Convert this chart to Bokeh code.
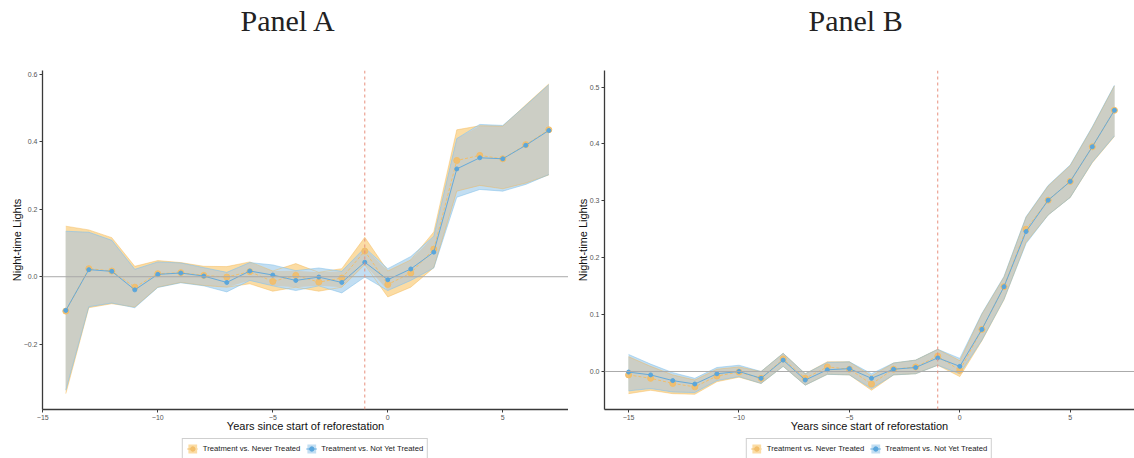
import numpy as np
from bokeh.plotting import figure
from bokeh.layouts import row, column
from bokeh.models import (Range1d, Span, Legend, LegendItem, FixedTicker,
                          CustomJSTickFormatter, Title)
from bokeh.embed import file_html
from bokeh.resources import INLINE

# ---------------- data: Panel A ----------------
years_a = list(range(-14, 8))
never_est_a = [-0.102, 0.024, 0.017, -0.031, 0.009, 0.012, 0.004, -0.001, 0.015, -0.014, 0.004,
               -0.016, -0.004, 0.076, -0.023, 0.011, 0.082, 0.345, 0.360, 0.350, 0.392, 0.436]
never_hi_a = [0.150, 0.139, 0.116, 0.031, 0.048, 0.042, 0.031, 0.030, 0.044, 0.017, 0.039,
              0.013, 0.024, 0.117, 0.017, 0.050, 0.133, 0.436, 0.448, 0.447, 0.510, 0.572]
never_lo_a = [-0.347, -0.092, -0.080, -0.090, -0.031, -0.017, -0.026, -0.031, -0.021, -0.043, -0.031,
              -0.043, -0.031, 0.036, -0.060, -0.031, 0.027, 0.254, 0.271, 0.261, 0.278, 0.302]
notyet_est_a = [-0.100, 0.021, 0.016, -0.039, 0.007, 0.011, 0.002, -0.017, 0.017, 0.005, -0.011,
                -0.001, -0.017, 0.043, -0.009, 0.023, 0.073, 0.320, 0.353, 0.350, 0.390, 0.434]
notyet_hi_a = [0.135, 0.132, 0.108, 0.022, 0.044, 0.041, 0.027, 0.013, 0.042, 0.035, 0.018,
               0.026, 0.016, 0.086, 0.024, 0.060, 0.120, 0.410, 0.452, 0.449, 0.508, 0.570]
notyet_lo_a = [-0.337, -0.089, -0.078, -0.092, -0.032, -0.018, -0.027, -0.045, -0.011, -0.027, -0.041,
               -0.027, -0.048, -0.001, -0.041, -0.011, 0.026, 0.236, 0.259, 0.254, 0.274, 0.303]

# ---------------- data: Panel B ----------------
years_b = list(range(-15, 8))
never_est_b = [-0.006, -0.012, -0.021, -0.027, -0.008, -0.001, -0.012, 0.022, -0.012, 0.008, 0.004, -0.022,
               0.004, 0.008, 0.027, 0.002, 0.074, 0.149, 0.250, 0.301, 0.334, 0.395, 0.459]
never_hi_b = [0.026, 0.009, -0.006, -0.015, 0.004, 0.008, 0.000, 0.032, -0.004, 0.017, 0.017, -0.008,
              0.015, 0.020, 0.039, 0.019, 0.101, 0.166, 0.271, 0.326, 0.362, 0.429, 0.502]
never_lo_b = [-0.039, -0.033, -0.039, -0.040, -0.018, -0.010, -0.021, 0.009, -0.024, -0.005, -0.006, -0.033,
              -0.006, -0.004, 0.011, -0.009, 0.054, 0.126, 0.227, 0.275, 0.306, 0.367, 0.413]
notyet_est_b = [-0.001, -0.006, -0.016, -0.022, -0.004, 0.000, -0.012, 0.020, -0.015, 0.003, 0.005, -0.012,
                0.004, 0.007, 0.024, 0.009, 0.074, 0.149, 0.246, 0.301, 0.334, 0.395, 0.459]
notyet_hi_b = [0.030, 0.013, -0.002, -0.012, 0.007, 0.011, 0.000, 0.032, -0.004, 0.016, 0.017, -0.004,
               0.015, 0.020, 0.039, 0.023, 0.102, 0.167, 0.272, 0.327, 0.363, 0.430, 0.503]
notyet_lo_b = [-0.034, -0.030, -0.036, -0.037, -0.016, -0.009, -0.021, 0.009, -0.024, -0.005, -0.006, -0.030,
               -0.006, -0.004, 0.011, -0.004, 0.055, 0.127, 0.225, 0.275, 0.306, 0.368, 0.414]

label_never = "Treatment vs. Never Treated"
label_notyet = "Treatment vs. Not Yet Treated"
x_title = "Years since start of reforestation"
y_title = "Night-time Lights"
x_ticks = [-15, -10, -5, 0, 5]
y_ticks_a = [-0.2, 0.0, 0.2, 0.4, 0.6]
y_ticks_b = [0.0, 0.1, 0.2, 0.3, 0.4, 0.5]

ORANGE_BAND = "#FBDCA4"
BLUE_BAND = "#C2DEF2"
OVERLAP_BAND = "#CCCEC5"
ORANGE_EDGE = "#F2B44C"
BLUE_EDGE = "#7DBDE8"
ORANGE_PT = "#F2BE6A"
BLUE_PT = "#5AA6DC"
SANS = "Liberation Sans"
MAIN_H = 434
LEG_H = 24


def series_renderers(p, xs, o_est, o_hi, o_lo, b_est, b_hi, b_lo, decorations=True):
    va_o = p.varea(x=xs, y1=o_lo, y2=o_hi, fill_color=ORANGE_BAND)
    va_b = p.varea(x=xs, y1=b_lo, y2=b_hi, fill_color=BLUE_BAND)
    if decorations:
        ov_lo = np.maximum(o_lo, b_lo)
        ov_hi = np.maximum(np.minimum(o_hi, b_hi), ov_lo)
        p.varea(x=xs, y1=ov_lo, y2=ov_hi, fill_color=OVERLAP_BAND)
        p.line(xs, o_hi, line_color=ORANGE_EDGE, line_width=0.7, line_alpha=0.6)
        p.line(xs, o_lo, line_color=ORANGE_EDGE, line_width=0.7, line_alpha=0.6)
        p.line(xs, b_hi, line_color=BLUE_EDGE, line_width=0.7, line_alpha=0.7)
        p.line(xs, b_lo, line_color=BLUE_EDGE, line_width=0.7, line_alpha=0.7)
        p.add_layout(Span(location=0, dimension="width", line_color="#AAAAAA", line_width=1))
        p.add_layout(Span(location=-1, dimension="height", line_color="#E8907E",
                          line_width=1, line_dash="3 3"))
    ln_o = p.line(xs, o_est, line_color=ORANGE_PT, line_width=1, line_dash="3 2")
    pt_o = p.scatter(xs, o_est, size=6, fill_color=ORANGE_PT, line_color=ORANGE_PT, fill_alpha=0.9)
    ln_b = p.line(xs, b_est, line_color=BLUE_PT, line_width=0.9)
    pt_b = p.scatter(xs, b_est, size=4, fill_color=BLUE_PT, line_color=BLUE_PT)
    return [va_o, ln_o, pt_o], [va_b, ln_b, pt_b]


def make_panel(title, title_offset, width, border_left, xr, yr, yticks, xs,
               o_est, o_hi, o_lo, b_est, b_hi, b_lo):
    p = figure(width=width, height=MAIN_H, x_range=Range1d(*xr), y_range=Range1d(*yr),
               output_backend="svg", toolbar_location=None,
               min_border_left=border_left, min_border_right=0,
               min_border_top=70, min_border_bottom=MAIN_H - 409)
    # spacer between frame and title, then the title itself (stacked outwards)
    p.add_layout(Title(text=" ", text_font_size="20px", standoff=10), "above")
    p.add_layout(Title(text=title, align="left", offset=title_offset,
                       text_font="Liberation Serif", text_font_size="30px",
                       text_font_style="normal", text_color="#222222", standoff=0), "above")
    p.outline_line_color = None
    p.xgrid.visible = False
    p.ygrid.visible = False

    for ax in (p.xaxis, p.yaxis):
        ax.axis_line_color = "#3a3a3a"
        ax.axis_line_width = 1.3
        ax.major_tick_line_color = "#3a3a3a"
        ax.major_tick_out = 3
        ax.major_tick_in = 0
        ax.minor_tick_line_color = None
        ax.major_label_text_font = SANS
        ax.major_label_text_font_size = "7px"
        ax.major_label_text_color = "#555555"
        ax.major_label_standoff = 2
        ax.axis_label_text_font = SANS
        ax.axis_label_text_font_size = "11px"
        ax.axis_label_text_font_style = "normal"
        ax.axis_label_text_color = "#111111"
    p.xaxis.axis_label_standoff = -3
    p.yaxis.axis_label_standoff = -2
    p.xaxis.axis_label = x_title
    p.yaxis.axis_label = y_title
    p.xaxis.ticker = FixedTicker(ticks=x_ticks)
    p.yaxis.ticker = FixedTicker(ticks=yticks)
    p.xaxis.formatter = CustomJSTickFormatter(code="return tick.toFixed(0).replace('-', '\\u2212');")
    p.yaxis.formatter = CustomJSTickFormatter(code="return tick.toFixed(1).replace('-', '\\u2212');")

    series_renderers(p, xs, o_est, o_hi, o_lo, b_est, b_hi, b_lo)

    # legend strip underneath (same left border so it centres on the frame);
    # its renderers hold the same series but the range keeps them off-screen
    lf = figure(width=width, height=LEG_H, x_range=Range1d(100, 101), y_range=Range1d(100, 101),
                x_axis_type=None, y_axis_type=None, output_backend="svg",
                toolbar_location=None, min_border_left=border_left, min_border_right=0,
                min_border_top=0, min_border_bottom=0)
    lf.outline_line_color = None
    lf.xgrid.visible = False
    lf.ygrid.visible = False
    r_o, r_b = series_renderers(lf, xs, o_est, o_hi, o_lo, b_est, b_hi, b_lo, decorations=False)
    legend = Legend(items=[LegendItem(label=label_never, renderers=r_o),
                           LegendItem(label=label_notyet, renderers=r_b)],
                    orientation="horizontal", location="top_center",
                    label_text_font=SANS, label_text_font_size="7.7px",
                    label_text_color="#222222",
                    glyph_width=11, glyph_height=11, label_height=11,
                    padding=4, spacing=5, label_standoff=5, margin=4,
                    border_line_color="#A0A0A0", border_line_width=1,
                    background_fill_color="white", background_fill_alpha=1)
    lf.add_layout(legend)
    return column(p, lf, spacing=0)


pa = make_panel("Panel A", 198, 568, 42, (-15.013, 7.857), (-0.394, 0.612), y_ticks_a, years_a,
                never_est_a, never_hi_a, never_lo_a, notyet_est_a, notyet_hi_a, notyet_lo_a)
pb = make_panel("Panel B", 204, 566, 36, (-16.09, 7.91), (-0.0668, 0.529), y_ticks_b, years_b,
                never_est_b, never_hi_b, never_lo_b, notyet_est_b, notyet_hi_b, notyet_lo_b)

layout = row(pa, pb, spacing=0)
open("out.html", "w").write(file_html(layout, INLINE))
